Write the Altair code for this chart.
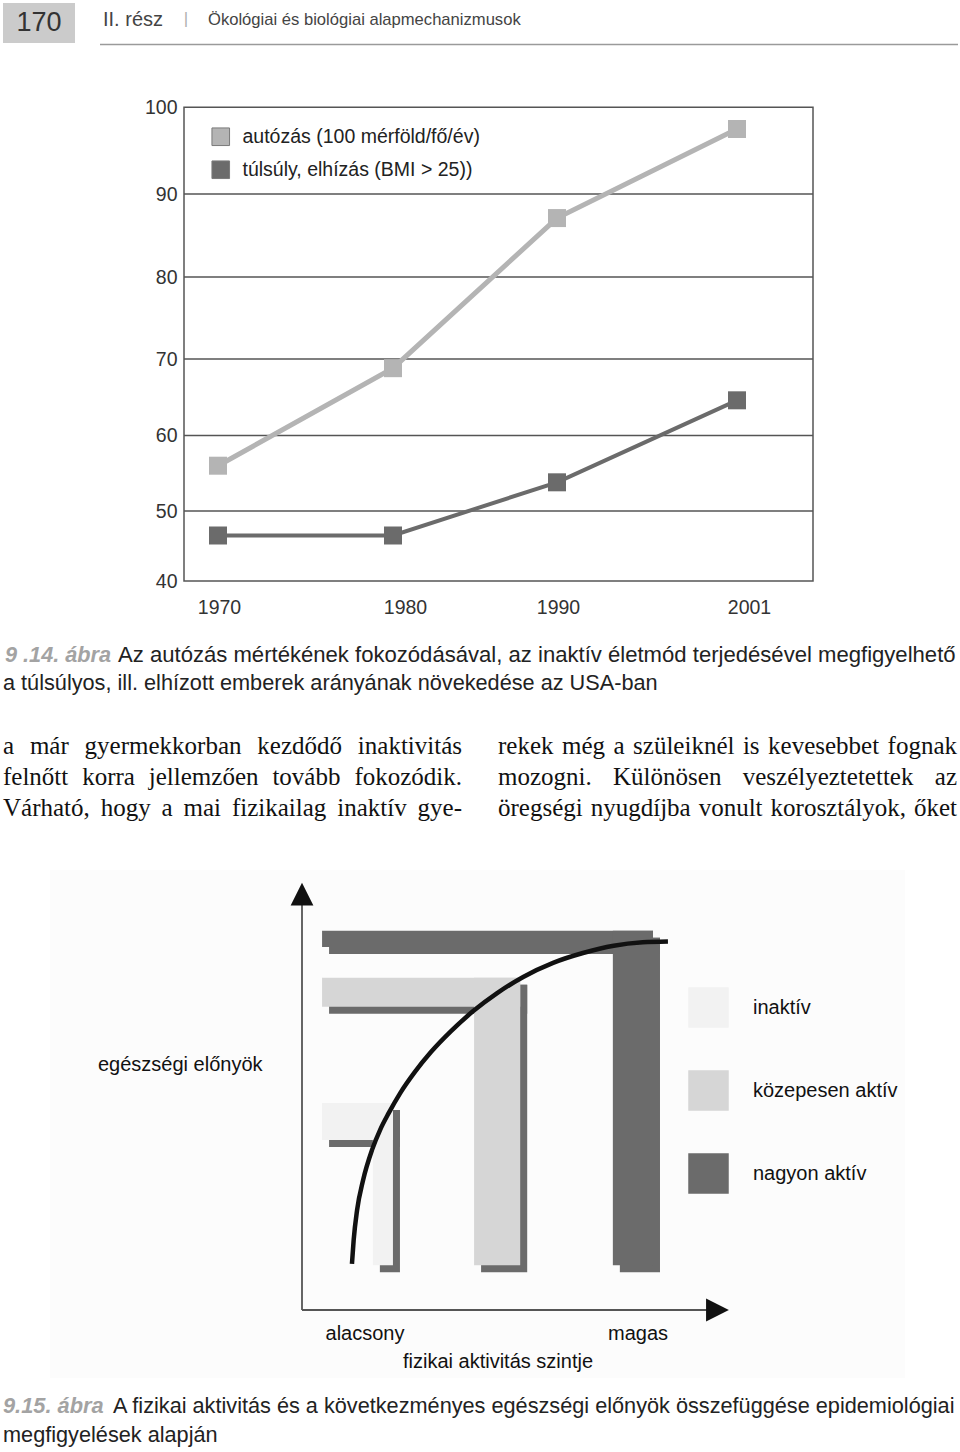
import altair as alt
import pandas as pd

# ---------------- 9.14: line chart data ----------------
years = [1970, 1980, 1990, 2001]
autozas = [56.0, 68.8, 87.1, 97.5]
tulsuly = [46.5, 46.5, 53.8, 64.6]
series_names = ["autózás (100 mérföld/fő/év)", "túlsúly, elhízás (BMI > 25))"]
series_colors = ["#b4b4b4", "#6b6b6b"]
series_widths = [5, 4]
y_ticks = [40, 50, 60, 70, 80, 90, 100]
x_ticks = [1970, 1980, 1990, 2001]

# ---------------- 9.15: diagram data ----------------
levels = ["inaktív", "közepesen aktív", "nagyon aktív"]
level_colors = ["#f2f2f2", "#d6d6d6", "#6b6b6b"]
benefit_top = [48.5, 77.8, 88.8]
bar_lower = [39.8, 71.0, 85.0]
stem_left = [16.6, 40.3, 72.8]
stem_right = [21.3, 51.1, 82.2]
bars_start = 4.7
bars_base = 10.5
curve_x = [11.7, 12.1, 12.9, 14.3, 16.4, 18.3, 20.3, 23.0, 26.4, 30.2, 34.9,
           40.1, 45.7, 51.8, 58.8, 65.8, 73.0, 79.8, 85.7]
curve_y = [10.8, 16.4, 23.4, 30.4, 37.5, 42.2, 46.1, 50.8, 55.7, 60.4, 65.3,
           70.0, 74.2, 78.0, 81.3, 83.6, 85.3, 86.1, 86.3]

# ---------------- page texts ----------------
header_num = "170"
header_part = "II. rész"
header_title = "Ökológiai és biológiai alapmechanizmusok"
cap1_label = "9 .14. ábra"
cap1_line1 = "Az autózás mértékének fokozódásával, az inaktív életmód terjedésével megfigyelhető"
cap1_line2 = "a túlsúlyos, ill. elhízott emberek arányának növekedése az USA-ban"
body_left = [
    "a már gyermekkorban kezdődő inaktivitás",
    "felnőtt korra jellemzően tovább fokozódik.",
    "Várható, hogy a mai fizikailag inaktív gye-",
]
body_right = [
    "rekek még a szüleiknél is kevesebbet fognak",
    "mozogni. Különösen veszélyeztetettek az",
    "öregségi nyugdíjba vonult korosztályok, őket",
]
body_y = [746, 777, 808]
diag_ylabel = "egészségi előnyök"
diag_low = "alacsony"
diag_high = "magas"
diag_xlabel = "fizikai aktivitás szintje"
cap2_label = "9.15. ábra"
cap2_line1 = "A fizikai aktivitás és a következményes egészségi előnyök összefüggése epidemiológiai"
cap2_line2 = "megfigyelések alapján"

SANS = "Liberation Sans, Arial, Helvetica, sans-serif"
SERIF = "Liberation Serif, Times New Roman, serif"

# Times-compatible advance widths (1/1000 em) used to justify the body text
TIMES_W = {'a': 444, 'b': 500, 'c': 444, 'd': 500, 'e': 444, 'f': 333, 'g': 500, 'h': 500,
           'i': 278, 'j': 278, 'k': 500, 'l': 278, 'm': 778, 'n': 500, 'o': 500, 'p': 500,
           'q': 500, 'r': 333, 's': 389, 't': 278, 'u': 500, 'v': 500, 'w': 722, 'x': 500,
           'y': 500, 'z': 444, 'á': 444, 'é': 444, 'í': 278, 'ó': 500, 'ö': 500, 'ő': 500,
           'ú': 500, 'ü': 500, 'ű': 500, 'K': 722, 'V': 722, ',': 250, '.': 250, '-': 333}
BODY_SIZE = 25

one = pd.DataFrame({"k": [0]})


def texts(rows, font, size, color, align="left", weight="normal", style="normal"):
    df = pd.DataFrame(rows, columns=["t", "x", "y"])
    return alt.Chart(df).mark_text(
        font=font, fontSize=size, color=color, align=align, baseline="middle",
        fontWeight=weight, fontStyle=style
    ).encode(
        x=alt.X("x:Q", scale=None, axis=None),
        y=alt.Y("y:Q", scale=None, axis=None),
        text="t:N",
    )


def box(x, x2, y, y2, **mark):
    return alt.Chart(one).mark_rect(**mark).encode(
        x=alt.value(x), x2=alt.value(x2), y=alt.value(y), y2=alt.value(y2))


def hrule(x, x2, y, **mark):
    return alt.Chart(one).mark_rule(**mark).encode(
        x=alt.value(x), x2=alt.value(x2), y=alt.value(y))


def justify(line, left, right, size, y, rows_l, rows_r):
    words = line.split(" ")
    widths = [sum(TIMES_W.get(c, 500) for c in w) * size / 1000.0 for w in words]
    gap = (right - left - sum(widths)) / (len(words) - 1)
    x = left
    for w, wd in zip(words[:-1], widths[:-1]):
        rows_l.append([w, x, y])
        x += wd + gap
    rows_r.append([words[-1], right, y])


# ---------------- header ----------------
header = [
    box(3, 75, 3, 43, fill="#cbcbcb"),
    hrule(100, 958, 44.5, color="#9a9a9a", strokeWidth=1.5),
    texts([[header_num, 39, 23]], SANS, 27, "#333333", align="center"),
    texts([[header_part, 103, 20]], SANS, 20, "#444444"),
    texts([[header_title, 208, 20]], SANS, 16.6, "#444444"),
    texts([["|", 186, 19]], SANS, 17, "#b0b0b0", align="center"),
]

# ---------------- line chart ----------------
xs = alt.Scale(domain=x_ticks, range=[218, 393, 557, 737], nice=False, zero=False)
ys = alt.Scale(domain=y_ticks, range=[581, 511, 435.5, 359, 277, 194, 107.3], nice=False, zero=False)
x_axis = alt.Axis(
    orient="bottom", offset=-871, values=x_ticks, format="d", domain=False, ticks=False,
    tickSize=0, grid=False, labelPadding=17, labelFontSize=19.5, labelFont=SANS,
    labelColor="#333333", title=None, labelFlush=False, labelOverlap=False,
    labelOffset={"condition": {"test": "datum.value == 1980 || datum.value == 2001", "value": 12}, "value": 1},
)
y_axis = alt.Axis(
    orient="left", offset=-184, values=y_ticks, domain=False, ticks=False, tickSize=0,
    grid=False, labelPadding=7, labelFontSize=19.5, labelFont=SANS, labelColor="#333333",
    title=None, labelOverlap=False, labelFlush=False,
)

df_line = pd.DataFrame({
    "year": years * 2,
    "value": autozas + tulsuly,
    "series": [series_names[0]] * len(years) + [series_names[1]] * len(years),
})
df_grid = pd.DataFrame({"value": y_ticks[1:-1]})

grid = alt.Chart(df_grid).mark_rule(color="#555555", strokeWidth=1.5).encode(
    y=alt.Y("value:Q", scale=ys, axis=y_axis),
    x=alt.value(184), x2=alt.value(813),
)
line_layers = []
for name, col, wd in zip(series_names, series_colors, series_widths):
    line_layers.append(
        alt.Chart(df_line).transform_filter(alt.datum.series == name)
        .mark_line(color=col, strokeWidth=wd)
        .encode(
            x=alt.X("year:Q", scale=xs, axis=x_axis),
            y=alt.Y("value:Q", scale=ys, axis=y_axis),
        )
    )
points = alt.Chart(df_line).mark_square(size=324, opacity=1).encode(
    x=alt.X("year:Q", scale=xs, axis=x_axis),
    y=alt.Y("value:Q", scale=ys, axis=y_axis),
    fill=alt.Fill(
        "series:N",
        scale=alt.Scale(domain=series_names, range=series_colors),
        legend=alt.Legend(
            orient="none", legendX=211, legendY=127, direction="vertical", title=None,
            symbolType="square", symbolSize=310, symbolStrokeColor="#7a7a7a",
            symbolStrokeWidth=1, symbolOpacity=1, labelFontSize=19.5, labelFont=SANS,
            labelColor="#222222", labelOffset=12, rowPadding=10, padding=0, labelLimit=0,
        ),
    ),
)
frame = box(184, 813, 107.3, 581, fill="white", fillOpacity=0, stroke="#555555", strokeWidth=1.5)
line_chart = alt.layer(grid, *line_layers, points)

# ---------------- captions ----------------
caption1 = [
    texts([[cap1_label, 5, 655]], SANS, 21.7, "#a3a3a3", weight="bold", style="italic"),
    texts([[cap1_line1, 118, 655]], SANS, 22.1, "#222222"),
    texts([[cap1_line2, 3, 683]], SANS, 21.7, "#222222"),
]

# ---------------- body text (justified) ----------------
body_rows_l, body_rows_r = [], []
for line, yy in zip(body_left, body_y):
    justify(line, 3, 462, BODY_SIZE, yy, body_rows_l, body_rows_r)
for line, yy in zip(body_right, body_y):
    justify(line, 498, 957, BODY_SIZE, yy, body_rows_l, body_rows_r)
body = [
    texts(body_rows_l, SERIF, BODY_SIZE, "#111111"),
    texts(body_rows_r, SERIF, BODY_SIZE, "#111111", align="right"),
]

# ---------------- diagram ----------------
dxs = alt.Scale(domain=[0, 100], range=[302, 729], nice=False, zero=False)
dys = alt.Scale(domain=[0, 100], range=[1310, 883], nice=False, zero=False)

rect_rows = []
for lv, top, low, sl, sr in zip(levels, benefit_top, bar_lower, stem_left, stem_right):
    rect_rows.append({"level": lv, "x0": bars_start, "x1": sr, "y0": low, "y1": top})
    rect_rows.append({"level": lv, "x0": sl, "x1": sr, "y0": bars_base, "y1": top})
df_rect = pd.DataFrame(rect_rows)

shadows = alt.Chart(df_rect).mark_rect(
    fill="#6b6b6b", xOffset=7, x2Offset=7, yOffset=7, y2Offset=7
).encode(
    x=alt.X("x0:Q", scale=dxs, axis=None), x2="x1:Q",
    y=alt.Y("y0:Q", scale=dys, axis=None), y2="y1:Q",
)
fronts = alt.Chart(df_rect).mark_rect().encode(
    x=alt.X("x0:Q", scale=dxs, axis=None), x2="x1:Q",
    y=alt.Y("y0:Q", scale=dys, axis=None), y2="y1:Q",
    fill=alt.Fill(
        "level:N", scale=alt.Scale(domain=levels, range=level_colors),
        legend=alt.Legend(
            orient="none", legendX=688, legendY=987, direction="vertical", title=None,
            symbolType="square", symbolSize=1640, symbolStrokeWidth=0, symbolOpacity=1,
            labelFontSize=20, labelFont=SANS, labelColor="#111111", labelOffset=24,
            rowPadding=42, padding=0, labelLimit=0,
        ),
    ),
)
df_curve = pd.DataFrame({"x0": curve_x, "y0": curve_y})
curve = alt.Chart(df_curve).mark_line(color="#111111", strokeWidth=4.5, interpolate="monotone").encode(
    x=alt.X("x0:Q", scale=dxs, axis=None), y=alt.Y("y0:Q", scale=dys, axis=None),
)
df_axes = pd.DataFrame({"x0": [0, 0], "x1": [0, 95], "y0": [0, 0], "y1": [95, 0]})
axes_lines = alt.Chart(df_axes).mark_rule(color="#555555", strokeWidth=1.8).encode(
    x=alt.X("x0:Q", scale=dxs, axis=None), x2="x1:Q",
    y=alt.Y("y0:Q", scale=dys, axis=None), y2="y1:Q",
)
df_arrows = pd.DataFrame({"x0": [0, 97.3], "y0": [97.4, 0], "dir": ["up", "right"]})
arrows = alt.Chart(df_arrows).mark_point(filled=True, size=520, color="#111111", opacity=1).encode(
    x=alt.X("x0:Q", scale=dxs, axis=None), y=alt.Y("y0:Q", scale=dys, axis=None),
    shape=alt.Shape("dir:N", scale=alt.Scale(domain=["up", "right"],
                    range=["M-1,1L0,-1L1,1Z", "M-1,-1L1,0L-1,1Z"]), legend=None),
)
diagram = alt.layer(shadows, fronts, curve, axes_lines, arrows)
diagram_bg = box(50, 905, 870, 1378, fill="#fcfcfc")

diag_texts = [
    texts([[diag_ylabel, 98, 1065]], SANS, 20, "#111111"),
    texts([[diag_low, 365, 1334], [diag_high, 638, 1334], [diag_xlabel, 498, 1362]],
          SANS, 20, "#111111", align="center"),
]

caption2 = [
    texts([[cap2_label, 3, 1406]], SANS, 21.8, "#a3a3a3", weight="bold", style="italic"),
    texts([[cap2_line1, 113, 1406], [cap2_line2, 3, 1435]], SANS, 21.7, "#222222"),
]

chart = alt.layer(
    *header, frame, line_chart, *caption1, *body, diagram_bg, diagram, *diag_texts, *caption2
).resolve_scale(
    x="independent", y="independent", fill="independent", shape="independent",
).properties(
    width=960, height=1452, autosize=alt.AutoSizeParams(type="none"), padding=0,
    background="white",
).configure_view(stroke=None)

chart.save("out.html", embed_options={"renderer": "svg", "actions": False})
